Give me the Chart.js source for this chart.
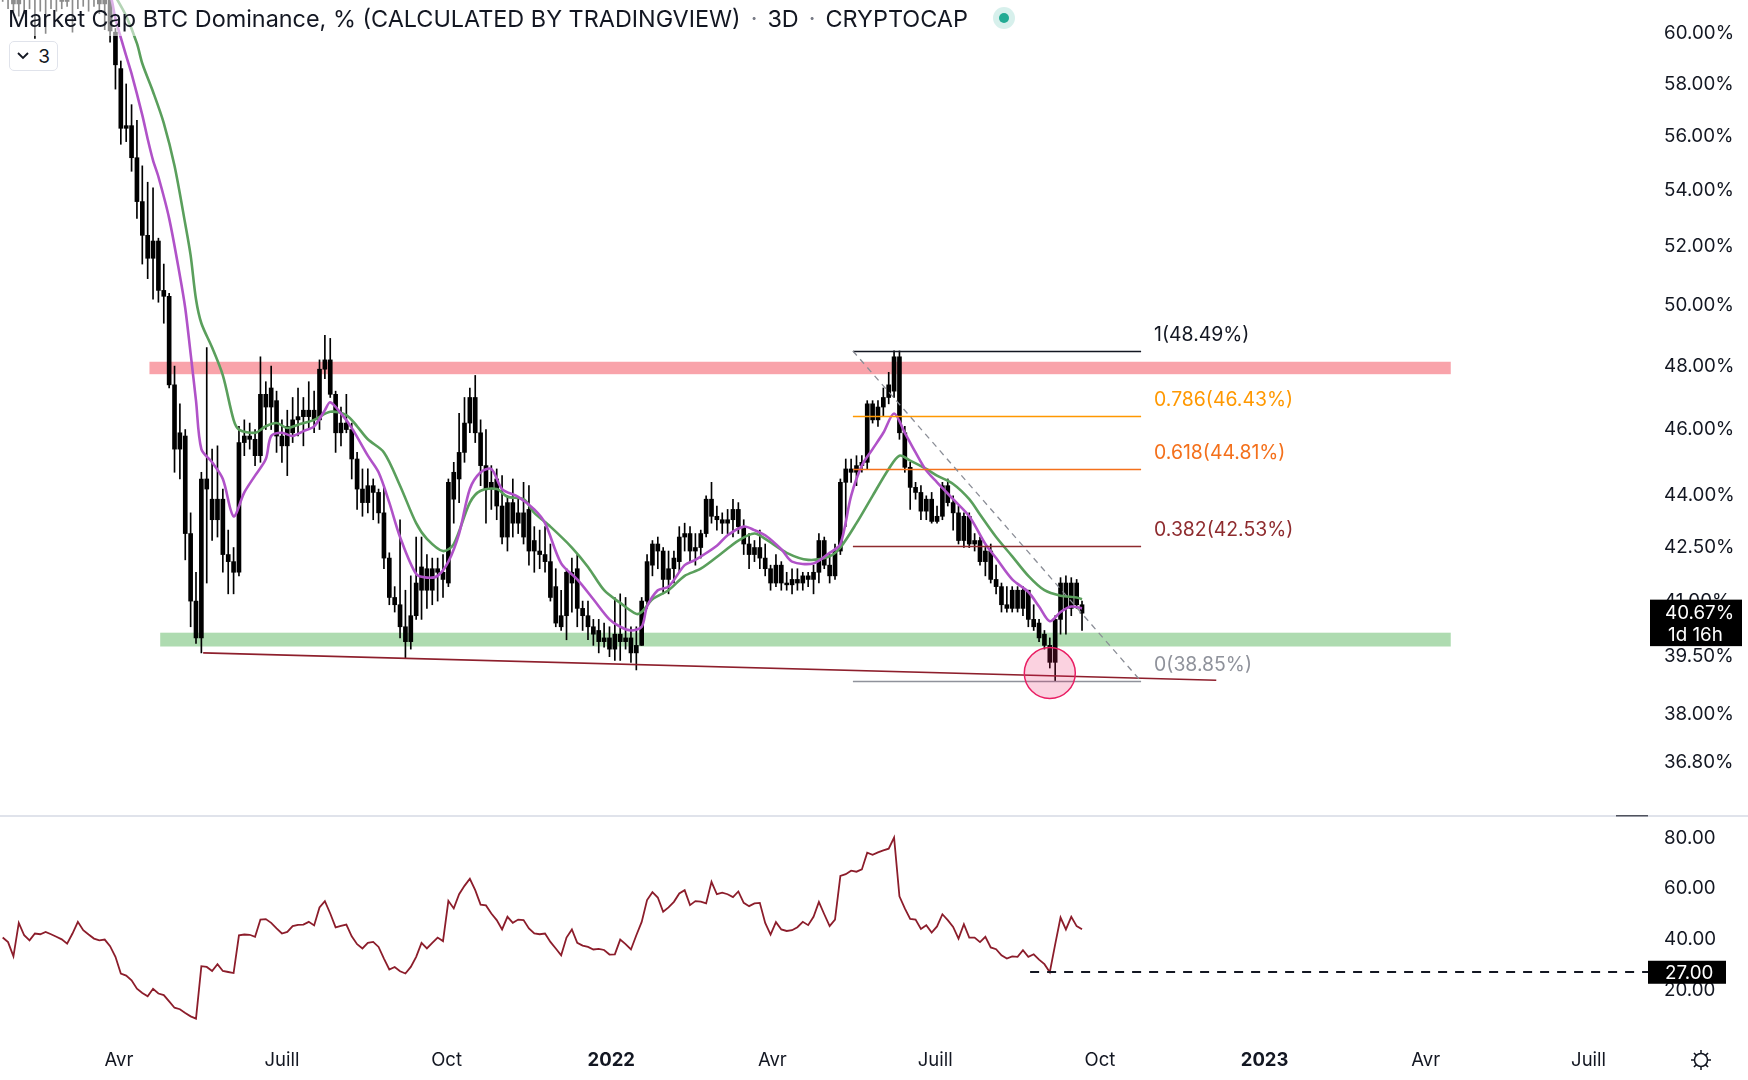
<!DOCTYPE html>
<html lang="fr">
<head>
<meta charset="utf-8">
<title>Market Cap BTC Dominance</title>
<script src="https://cdn.jsdelivr.net/npm/chart.js@4.4.1/dist/chart.umd.min.js"></script>
<style>
  html, body { margin: 0; padding: 0; background: #fff; }
  body { position: relative; width: 1748px; height: 1080px; overflow: hidden;
         font-family: Inter, "Noto Sans", "DejaVu Sans", sans-serif; color: #131722; }
  .pane { position: absolute; left: 0; width: 1748px; }
  #mainPane { top: 0; height: 815px; }
  #rsiPane { top: 815px; height: 265px; }
  #legend { position: absolute; left: 0; top: 0; height: 36px; padding: 0 14px 0 8px;
            display: flex; align-items: center; font-size: 23.4px; white-space: nowrap;
            background: rgba(255, 255, 255, 0.55); }
  #legend .sep { color: #787b86; margin: 0 10px; }
  #legend .dot { position: relative; width: 22px; height: 22px; margin-left: 25px; border-radius: 50%;
                 background: rgba(34, 171, 148, 0.18); }
  #legend .dot::after { content: ""; position: absolute; left: 6px; top: 6px; width: 10px; height: 10px;
                        border-radius: 50%; background: #22ab94; }
  #collapse { position: absolute; left: 9px; top: 41px; width: 47px; height: 28px;
              border: 1px solid #e0e3eb; border-radius: 5px; background: #fff;
              display: flex; align-items: center; justify-content: center; gap: 9px; font-size: 19px; }
</style>
</head>
<body>
<div class="pane" id="mainPane"><canvas id="mainChart"></canvas></div>
<div class="pane" id="rsiPane"><canvas id="rsiChart"></canvas></div>
<div id="legend">
  <span>Market Cap BTC Dominance, % (CALCULATED BY TRADINGVIEW)</span><span class="sep">·</span><span>3D</span><span class="sep">·</span><span>CRYPTOCAP</span><span class="dot"></span>
</div>
<div id="collapse"><svg width="12" height="8"><polyline points="1,1 6,6 11,1" fill="none" stroke="#131722" stroke-width="1.8"/></svg><span>3</span></div>
<script>
const FONT = 'Inter, "Noto Sans", "DejaVu Sans", sans-serif';
const INK = '#131722';

// 3D candles, BTC dominance in %
const firstBar = '2021-01-26';
const barStepDays = 3;

const open = [
  62.6, 62.0, 62.4, 61.2, 61.8, 62.5, 62.9, 62.1, 62.4, 61.9,
  62.3, 61.7, 61.3, 61.8, 61.4, 62.2, 62.6, 62.0, 61.6, 61.2,
  61.5, 60.05, 58.6, 56.3, 56.4, 55.2, 53.6, 52.4, 51.6, 52.2,
  50.5, 50.3, 47.4, 45.4, 45.8, 42.9, 41.0, 40.0, 44.5, 43.9,
  43.3, 43.9, 42.3, 42.1, 41.8, 45.6, 45.8, 45.7, 45.2, 47.1,
  46.7, 46.9, 45.8, 45.5, 45.9, 46.3, 46.4, 46.4, 46.6, 46.3,
  47.9, 48.2, 47.1, 45.9, 46.2, 46.0, 45.1, 44.2, 43.8, 44.3,
  44.1, 43.5, 42.2, 41.1, 40.9, 40.3, 39.9, 40.6, 41.3, 41.9,
  41.3, 41.9, 41.8, 41.5, 43.9, 44.5, 45.3, 46.2, 47.0, 45.9,
  44.9, 44.2, 44.5, 43.7, 42.8, 43.8, 43.2, 43.5, 43.6, 42.4,
  42.4, 42.3, 42.1, 41.4, 40.3, 40.6, 41.8, 41.9, 40.8, 40.6,
  40.3, 40.2, 39.9, 40.0, 39.7, 40.1, 39.9, 40.0, 39.6, 39.8,
  41.0, 42.0, 42.6, 42.4, 41.6, 41.9, 42.1, 42.8, 42.9, 42.4,
  42.5, 42.9, 43.9, 43.4, 43.3, 43.2, 43.3, 43.6, 43.1, 42.6,
  42.3, 42.5, 42.2, 41.9, 41.5, 42.0, 41.5, 41.45, 41.6, 41.5,
  41.7, 41.6, 41.8, 42.7, 42.0, 41.7, 42.4, 44.4, 44.8, 44.7,
  44.9, 45.0, 46.8, 46.3, 46.7, 47.0, 47.2, 48.3, 45.9, 44.85,
  44.25, 44.1, 43.55, 43.9, 43.25, 43.4, 44.3, 43.8, 43.5, 42.7,
  43.4, 42.6, 42.7, 42.1, 42.4, 41.6, 41.4, 40.9, 40.8, 41.3,
  40.8, 41.3, 40.5, 40.4, 40.1, 39.8, 39.35, 40.5, 41.5, 40.8,
  41.5, 40.9
];
const high = [
  63.4, 62.8, 63.0, 62.3, 63.0, 63.6, 63.2, 62.9, 63.1, 62.7,
  63.0, 62.2, 62.0, 62.4, 62.6, 62.9, 63.1, 62.5, 62.1, 61.9,
  61.8, 60.2, 58.9, 58.0, 57.2, 56.6, 54.9, 54.3, 54.1, 52.3,
  51.4, 50.4, 48.0, 46.8, 46.0, 43.5, 41.8, 44.7, 48.6, 45.4,
  45.5, 44.2, 43.0, 42.5, 46.1, 46.3, 46.2, 46.0, 48.3, 47.5,
  48.0, 47.2, 46.3, 46.6, 47.0, 47.3, 47.0, 47.5, 47.2, 48.2,
  49.0, 48.9, 47.2, 46.7, 47.1, 46.2, 45.3, 44.8, 44.8, 44.5,
  44.2, 44.3, 42.35, 41.4, 43.3, 41.3, 41.7, 42.8, 42.8, 42.3,
  42.2, 42.2, 42.3, 44.5, 45.0, 46.5, 47.0, 47.3, 47.7, 46.3,
  46.0, 44.9, 44.8, 44.6, 44.0, 44.5, 43.9, 44.4, 44.3, 43.1,
  43.0, 43.1, 42.6, 41.9, 41.3, 41.9, 42.2, 42.3, 41.0, 41.0,
  40.5, 40.5, 40.4, 40.3, 41.1, 41.2, 41.1, 40.3, 40.3, 41.1,
  42.3, 42.7, 42.8, 42.5, 42.4, 42.4, 43.1, 43.2, 43.1, 42.9,
  43.0, 44.0, 44.4, 43.7, 43.5, 43.6, 43.9, 43.8, 43.3, 42.9,
  42.7, 43.0, 42.6, 42.0, 42.3, 42.1, 41.8, 41.9, 41.9, 41.8,
  41.8, 42.0, 42.9, 42.8, 42.3, 42.6, 44.5, 45.1, 45.1, 45.2,
  45.2, 46.9, 46.9, 46.9, 47.3, 47.8, 48.49, 48.49, 46.1, 45.0,
  44.4, 44.3, 44.0, 44.1, 43.7, 44.4, 44.5, 44.0, 43.7, 43.5,
  43.5, 42.9, 42.8, 42.5, 42.6, 42.0, 41.5, 41.4, 41.4, 41.4,
  41.4, 41.3, 40.9, 40.5, 40.2, 40.0, 40.6, 41.65, 41.7, 41.65,
  41.6, 41.0
];
const low = [
  61.3, 61.0, 60.9, 60.7, 60.8, 61.0, 59.8, 60.9, 60.0, 61.0,
  60.9, 61.0, 61.1, 60.05, 61.0, 61.1, 60.9, 61.1, 60.8, 60.15,
  59.65, 57.8, 55.7, 55.8, 54.7, 53.0, 51.4, 50.9, 50.2, 50.1,
  49.4, 47.3, 44.7, 44.5, 42.15, 40.3, 39.85, 39.6, 41.5, 42.7,
  42.8, 41.8, 41.2, 41.2, 41.7, 45.2, 45.4, 44.9, 45.0, 46.0,
  46.0, 45.3, 45.0, 44.6, 45.6, 45.8, 45.5, 46.0, 45.9, 46.0,
  47.6, 47.0, 45.3, 45.5, 45.9, 44.5, 43.6, 43.4, 43.5, 43.3,
  43.2, 41.9, 40.9, 40.7, 40.0, 39.45, 39.7, 40.5, 40.5, 40.8,
  40.9, 41.0, 41.1, 41.4, 43.2, 43.8, 45.0, 45.9, 45.6, 44.3,
  43.2, 43.6, 43.3, 42.6, 42.4, 42.8, 42.9, 42.6, 42.0, 41.8,
  41.9, 41.8, 41.0, 40.3, 40.2, 39.95, 40.7, 40.3, 40.2, 39.95,
  39.8, 39.6, 39.75, 39.5, 39.4, 39.4, 39.7, 39.35, 39.15, 39.8,
  40.8, 41.7, 41.9, 41.2, 41.2, 41.5, 41.8, 42.4, 42.1, 42.0,
  42.2, 42.8, 43.2, 43.0, 42.9, 42.9, 42.8, 42.9, 42.3, 41.9,
  42.1, 41.9, 41.7, 41.3, 41.4, 41.3, 41.3, 41.2, 41.3, 41.3,
  41.4, 41.2, 41.5, 41.9, 41.5, 41.6, 42.3, 43.1, 44.4, 44.3,
  44.7, 44.8, 46.2, 46.1, 46.4, 46.8, 47.0, 45.7, 44.7, 43.6,
  43.9, 43.3, 43.3, 43.2, 43.2, 43.3, 43.7, 43.0, 42.6, 42.5,
  42.5, 42.4, 42.0, 41.7, 41.5, 41.2, 40.7, 40.7, 40.7, 40.7,
  40.6, 40.3, 40.2, 39.9, 39.7, 39.2, 38.85, 40.1, 40.1, 40.6,
  40.8, 40.2
];
const close = [
  62.0, 62.4, 61.2, 61.8, 62.5, 62.9, 62.1, 62.4, 61.9, 62.3,
  61.7, 61.3, 61.8, 61.4, 62.2, 62.6, 62.0, 61.6, 61.2, 61.5,
  60.1, 58.75, 56.3, 56.4, 55.2, 53.6, 52.4, 51.6, 52.2, 50.5,
  50.3, 47.4, 45.4, 45.9, 42.9, 41.0, 40.0, 44.5, 44.2, 43.3,
  43.9, 42.3, 42.1, 41.8, 45.6, 45.8, 45.7, 45.2, 47.1, 46.7,
  47.3, 45.8, 45.5, 46.1, 46.3, 46.4, 46.6, 46.6, 46.3, 47.9,
  48.2, 47.1, 45.9, 46.2, 46.0, 45.1, 44.2, 43.8, 44.3, 44.1,
  43.5, 42.2, 41.1, 40.9, 40.3, 39.9, 40.6, 41.5, 41.95, 41.3,
  41.9, 41.8, 41.6, 44.4, 44.7, 45.3, 46.2, 47.0, 45.9, 44.9,
  44.2, 44.4, 43.7, 42.8, 43.8, 43.2, 43.5, 42.8, 42.4, 42.7,
  42.3, 42.1, 41.1, 40.4, 40.6, 41.8, 41.5, 40.8, 40.6, 40.3,
  40.1, 39.9, 40.0, 39.7, 40.1, 39.9, 40.0, 39.6, 39.8, 41.0,
  42.1, 42.6, 42.4, 41.6, 41.9, 42.2, 42.8, 42.9, 42.4, 42.5,
  42.9, 43.9, 43.4, 43.3, 43.2, 43.3, 43.6, 43.1, 42.6, 42.3,
  42.5, 42.2, 41.9, 41.5, 42.0, 41.5, 41.45, 41.6, 41.5, 41.7,
  41.6, 41.8, 42.7, 42.0, 41.7, 42.4, 44.4, 44.8, 44.7, 44.9,
  45.0, 46.8, 46.3, 46.7, 47.0, 47.4, 48.3, 45.9, 44.85, 44.25,
  44.1, 43.55, 43.9, 43.25, 43.4, 44.3, 43.8, 43.5, 42.7, 43.4,
  42.6, 42.7, 42.1, 42.4, 41.6, 41.4, 40.9, 40.8, 41.3, 40.8,
  41.3, 40.5, 40.3, 40.0, 39.8, 39.35, 40.5, 41.5, 40.8, 41.5,
  40.9, 40.67
];

// RSI, one value per candle
const rsi = [
  40.7, 38.9, 33.3, 46.5, 41.6, 39.6, 42.3, 42.0, 42.9, 42.0,
  41.0, 40.0, 38.3, 42.3, 46.9, 43.6, 41.9, 40.3, 39.6, 39.9,
  37.3, 33.1, 26.5, 25.7, 23.8, 20.5, 18.8, 17.5, 20.5, 18.6,
  18.0, 15.5, 13.0, 12.4, 10.9, 9.6, 8.7, 29.4, 29.1, 27.5,
  30.2, 27.5, 27.1, 26.7, 41.6, 41.9, 41.8, 41.0, 47.8, 48.0,
  46.5, 44.3, 42.3, 42.9, 45.2, 45.7, 45.8, 46.9, 45.5, 52.6,
  55.1, 50.2, 44.7, 45.3, 45.8, 41.2, 38.1, 36.4, 38.6, 39.0,
  37.0, 32.4, 28.1, 29.1, 27.4, 26.5, 29.1, 33.1, 38.6, 36.4,
  38.6, 40.7, 39.3, 55.2, 52.2, 57.8, 61.1, 63.9, 59.4, 53.7,
  53.4, 50.2, 47.6, 43.9, 48.9, 46.5, 47.8, 47.6, 44.3, 42.3,
  42.0, 42.3, 39.0, 36.4, 33.7, 40.7, 43.9, 38.6, 37.5, 37.0,
  36.0, 36.2, 35.8, 34.0, 34.1, 39.9, 38.1, 36.0, 41.6, 46.9,
  55.5, 58.6, 56.5, 50.9, 52.6, 54.8, 58.1, 59.4, 53.5, 55.1,
  54.9, 54.2, 62.7, 57.8, 58.4, 57.8, 56.7, 58.9, 54.4, 53.1,
  54.2, 54.4, 46.5, 41.9, 46.8, 43.9, 43.3, 43.6, 44.8, 46.9,
  45.6, 48.9, 54.8, 49.9, 45.2, 47.8, 65.0, 65.7, 67.1, 66.7,
  67.6, 74.2, 73.4, 74.3, 75.1, 75.8, 80.2, 57.0, 52.2, 48.1,
  47.8, 44.1, 45.6, 42.7, 45.1, 49.9, 47.6, 44.9, 40.3, 46.0,
  40.7, 40.7, 38.9, 41.0, 36.8, 36.1, 33.7, 32.4, 33.3, 33.1,
  35.7, 33.1, 34.1, 32.0, 30.2, 27.0, 38.0, 48.6, 43.9, 48.9,
  45.2, 44.0
];

// moving averages, read at these candle numbers
const fastMaBar = [14, 18, 20, 21, 23, 24, 26, 27, 28, 29, 31, 33, 34, 35, 36, 37, 39, 41, 43, 45,
  47, 49, 50, 52, 54, 56, 58, 60, 61, 63, 65, 68, 70, 72, 74, 77, 79, 81, 83, 85,
  87, 89, 91, 93, 96, 99, 101, 104, 107, 110, 113, 115, 117, 119, 120, 122, 124, 127, 129, 133,
  135, 138, 140, 142, 145, 147, 151, 154, 156, 158, 160, 162, 164, 166, 168, 170, 172, 174, 177, 180,
  183, 185, 188, 191, 193, 195, 197, 199, 201];
const fastMa = [63.4, 62.4, 61.6, 60.6, 59.1, 58.4, 56.8, 55.9, 55.1, 54.5, 53.0, 51.0, 49.9, 48.4, 46.9, 45.4, 45.0, 44.5, 43.4, 44.1,
  44.6, 45.1, 45.8, 45.9, 45.8, 45.95, 46.1, 46.6, 46.85, 46.5, 46.05, 45.2, 44.7, 43.8, 42.8, 41.75, 41.65, 41.7, 42.1, 42.9,
  44.2, 44.7, 44.8, 44.2, 43.97, 43.6, 43.2, 42.05, 41.6, 41.05, 40.5, 40.3, 40.2, 40.3, 40.85, 41.3, 41.4, 42.0, 42.15, 42.55,
  42.85, 43.1, 43.0, 42.85, 42.45, 42.1, 42.05, 42.35, 42.6, 44.0, 44.9, 45.4, 45.9, 46.5, 45.9, 45.3, 44.75, 44.4, 43.9, 43.4,
  42.6, 42.2, 41.6, 41.25, 40.85, 40.45, 40.7, 40.85, 40.8];
const slowMaBar = [14, 18, 21, 23, 25, 26, 28, 30, 32, 34, 35, 36, 37, 39, 41, 43, 44, 47, 49, 51,
  53, 55, 58, 61, 64, 66, 68, 71, 74, 77, 79, 82, 84, 87, 89, 92, 94, 97, 99, 102,
  106, 109, 112, 115, 118, 119, 121, 124, 127, 130, 134, 137, 140, 142, 146, 150, 154, 156, 159, 162,
  165, 167, 169, 172, 174, 177, 180, 182, 185, 188, 191, 194, 197, 200, 201];
const slowMa = [64.0, 62.6, 61.5, 60.7, 59.6, 58.8, 57.7, 56.5, 54.9, 52.8, 51.7, 50.2, 49.4, 48.6, 47.7, 46.3, 46.0, 45.9, 46.1, 46.2,
  46.05, 46.15, 46.3, 46.55, 46.45, 46.1, 45.7, 45.3, 44.3, 43.2, 42.75, 42.4, 42.6, 43.8, 44.15, 44.2, 43.97, 43.9, 43.5, 43.1,
  42.5, 41.95, 41.3, 40.95, 40.65, 40.7, 41.05, 41.3, 41.7, 41.9, 42.35, 42.7, 42.9, 42.75, 42.35, 42.15, 42.25, 42.5, 43.2, 44.0,
  44.8, 45.2, 45.05, 44.8, 44.6, 44.35, 43.9, 43.45, 42.8, 42.25, 41.7, 41.3, 41.15, 41.1, 41.05];

const priceTicks = [36.8, 38, 39.5, 41, 42.5, 44, 46, 48, 50, 52, 54, 56, 58, 60];
const rsiTicks = [20, 40, 60, 80];
const monthTicks = ['2021-04-01', '2021-07-01', '2021-10-01', '2022-01-01', '2022-04-01',
  '2022-07-01', '2022-10-01', '2023-01-01', '2023-04-01', '2023-07-01'];
const monthLabels = ['Avr', 'Juill', 'Oct', '2022', 'Avr', 'Juill', 'Oct', '2023', 'Avr', 'Juill'];

const lastPrice = 40.67;
const countdown = '1d 16h';
const rsiLow = 27;
const rsiLowFrom = '2022-08-23';

// drawings on the price pane
const zones = [
  { from: '2021-04-18', to: '2023-04-15', lo: 47.74, hi: 48.14, color: 'rgba(242, 54, 69, 0.46)' },
  { from: '2021-04-24', to: '2023-04-15', lo: 39.77, hi: 40.14, color: 'rgba(76, 175, 80, 0.45)' }
];
const trend = { from: ['2021-05-18', 39.60], to: ['2022-12-05', 38.88] };
const fib = { from: '2022-05-16', to: '2022-10-24', high: 48.49, low: 38.85,
  levels: [1, 0.786, 0.618, 0.382, 0],
  colors: ['#131722', '#ff9800', '#f4701b', '#8e2b2e', '#8f929b'] };
const marker = { at: ['2022-09-03', 39.07] };

const DAY0 = Date.parse('2021-01-01');
const day = s => (Date.parse(s) - DAY0) / 864e5;
const barDay = i => day(firstBar) + barStepDays * i;
const VIEW = { from: 23.5, to: 944.2 };

const wicks = low.map((l, i) => ({ x: barDay(i), y: [l, high[i]] }));
const bodies = open.map((o, i) => ({ x: barDay(i), y: [o, close[i]] }));
const fastLine = fastMaBar.map((b, k) => ({ x: barDay(b), y: fastMa[k] }));
const slowLine = slowMaBar.map((b, k) => ({ x: barDay(b), y: slowMa[k] }));
const rsiLine = rsi.map((v, i) => ({ x: barDay(i), y: v }));

function sideAxis(min, max, ticks, fmt, type) {
  return {
    type, position: 'right', min, max, bounds: 'data',
    grid: { display: false, drawTicks: false }, border: { display: false },
    ticks: { padding: 16, color: INK, font: { size: 18.8, family: FONT }, callback: v => fmt(v) },
    afterBuildTicks: s => { s.ticks = ticks.map(v => ({ value: v })); },
    afterFit: s => { s.width = 100; s.paddingTop = 0; s.paddingBottom = 0; }
  };
}

const drawings = {
  id: 'drawings',
  beforeDatasetsDraw(chart) {
    const { ctx, chartArea: a, scales: { x, y } } = chart;
    ctx.save();
    ctx.beginPath(); ctx.rect(a.left, a.top, a.width, a.height); ctx.clip();
    zones.forEach(z => {
      const x1 = x.getPixelForValue(day(z.from)), x2 = x.getPixelForValue(day(z.to));
      const y1 = y.getPixelForValue(z.hi), y2 = y.getPixelForValue(z.lo);
      ctx.fillStyle = z.color;
      ctx.fillRect(x1, y1, x2 - x1, y2 - y1);
    });
    ctx.restore();
  },
  afterDatasetsDraw(chart) {
    const { ctx, chartArea: a, scales: { x, y } } = chart;
    ctx.save();
    ctx.beginPath(); ctx.rect(a.left, a.top, a.width, a.height); ctx.clip();

    // support trend line
    ctx.strokeStyle = '#8e1f2c'; ctx.lineWidth = 1.6;
    ctx.beginPath();
    ctx.moveTo(x.getPixelForValue(day(trend.from[0])), y.getPixelForValue(trend.from[1]));
    ctx.lineTo(x.getPixelForValue(day(trend.to[0])), y.getPixelForValue(trend.to[1]));
    ctx.stroke();

    // fib retracement
    const fx1 = x.getPixelForValue(day(fib.from)), fx2 = x.getPixelForValue(day(fib.to));
    ctx.font = '19.4px ' + FONT; ctx.textBaseline = 'middle'; ctx.textAlign = 'left';
    fib.levels.forEach((lv, k) => {
      const price = fib.low + (fib.high - fib.low) * lv;
      const py = Math.round(y.getPixelForValue(price)) + 0.5;
      ctx.strokeStyle = fib.colors[k]; ctx.lineWidth = 1.3;
      ctx.beginPath(); ctx.moveTo(fx1, py); ctx.lineTo(fx2, py); ctx.stroke();
      ctx.fillStyle = fib.colors[k];
      ctx.fillText(lv + '(' + price.toFixed(2) + '%)', fx2 + 13, py - 16);
    });
    ctx.setLineDash([6, 5]); ctx.strokeStyle = '#8a8d96'; ctx.lineWidth = 1.3;
    ctx.beginPath();
    ctx.moveTo(fx1, y.getPixelForValue(fib.high));
    ctx.lineTo(fx2, y.getPixelForValue(fib.low));
    ctx.stroke();
    ctx.setLineDash([]);

    // circle on the low
    const cx = x.getPixelForValue(day(marker.at[0])), cy = y.getPixelForValue(marker.at[1]);
    ctx.beginPath(); ctx.arc(cx, cy, 25.5, 0, Math.PI * 2);
    ctx.fillStyle = 'rgba(233, 30, 99, 0.2)'; ctx.fill();
    ctx.strokeStyle = '#e91e63'; ctx.lineWidth = 1.5; ctx.stroke();
    ctx.restore();
  },
  afterDraw(chart) {
    const { ctx, chartArea: a, scales: { y } } = chart;
    const py = y.getPixelForValue(lastPrice);
    ctx.save();
    ctx.fillStyle = '#000';
    ctx.fillRect(a.right + 2, py - 13.5, 92, 46.5);
    ctx.fillStyle = '#fff'; ctx.font = '18.8px ' + FONT; ctx.textBaseline = 'middle'; ctx.textAlign = 'left';
    ctx.fillText(lastPrice.toFixed(2) + '%', a.right + 17, py);
    ctx.fillText(countdown, a.right + 20, py + 22);
    ctx.restore();
  }
};

const rsiDecor = {
  id: 'rsiDecor',
  afterDatasetsDraw(chart) {
    const { ctx, chartArea: a, scales: { x, y } } = chart;
    const py = Math.round(y.getPixelForValue(rsiLow));
    ctx.save();
    ctx.setLineDash([9, 8]); ctx.strokeStyle = INK; ctx.lineWidth = 2;
    ctx.beginPath(); ctx.moveTo(x.getPixelForValue(day(rsiLowFrom)), py); ctx.lineTo(a.right, py); ctx.stroke();
    ctx.restore();
  },
  afterDraw(chart) {
    const { ctx, chartArea: a, scales: { y }, width } = chart;
    ctx.save();
    ctx.fillStyle = '#e0e3eb'; ctx.fillRect(0, 0, width, 2);
    ctx.fillStyle = '#50535e'; ctx.fillRect(a.right - 32, 0, 32, 1.5);

    const py = y.getPixelForValue(rsiLow);
    ctx.fillStyle = '#000'; ctx.fillRect(a.right, py - 11.5, 78, 23);
    ctx.fillStyle = '#fff'; ctx.font = '18.8px ' + FONT; ctx.textBaseline = 'middle'; ctx.textAlign = 'left';
    ctx.fillText(rsiLow.toFixed(2), a.right + 17, py + 1);

    // settings icon
    const gx = a.right + 53, gy = a.bottom + 20;
    ctx.strokeStyle = INK; ctx.lineWidth = 1.5;
    ctx.beginPath(); ctx.arc(gx, gy, 6.5, 0, Math.PI * 2); ctx.stroke();
    ctx.beginPath();
    for (let k = 0; k < 8; k++) {
      const t = k * Math.PI / 4;
      ctx.moveTo(gx + Math.cos(t) * 6.5, gy + Math.sin(t) * 6.5);
      ctx.lineTo(gx + Math.cos(t) * 10, gy + Math.sin(t) * 10);
    }
    ctx.stroke();
    ctx.restore();
  }
};

const common = {
  responsive: true, maintainAspectRatio: false, animation: false, events: [],
  layout: { padding: 0 },
  plugins: { legend: { display: false }, tooltip: { enabled: false } }
};

new Chart(document.getElementById('mainChart'), {
  type: 'bar',
  data: {
    datasets: [
      { type: 'line', data: fastLine, borderColor: '#b052c8', borderWidth: 2.6, pointRadius: 0, tension: 0.3, order: 0 },
      { type: 'line', data: slowLine, borderColor: '#5a9f5c', borderWidth: 2.6, pointRadius: 0, tension: 0.3, order: 1 },
      { data: bodies, backgroundColor: '#000', barThickness: 4, grouped: false, minBarLength: 1, order: 2 },
      { data: wicks, backgroundColor: '#000', barThickness: 1, grouped: false, order: 3 }
    ]
  },
  options: {
    ...common,
    scales: {
      x: { type: 'linear', min: VIEW.from, max: VIEW.to, bounds: 'data', offset: false, display: false },
      y: sideAxis(35.52, 61.36, priceTicks, v => v.toFixed(2) + '%', 'logarithmic')
    }
  },
  plugins: [drawings]
});

new Chart(document.getElementById('rsiChart'), {
  type: 'line',
  data: {
    datasets: [
      { data: rsiLine, borderColor: '#8c1d2b', borderWidth: 1.8, pointRadius: 0, tension: 0 }
    ]
  },
  options: {
    ...common,
    scales: {
      x: {
        type: 'linear', min: VIEW.from, max: VIEW.to, bounds: 'data', offset: false, position: 'bottom',
        grid: { display: false, drawTicks: false }, border: { display: false },
        ticks: {
          autoSkip: false, maxRotation: 0, padding: 9, color: INK,
          font: c => ({ size: 18.5, family: FONT, weight: /^\d{4}$/.test(monthLabels[c.index] || '') ? 'bold' : 'normal' }),
          callback: (v, i) => monthLabels[i]
        },
        afterBuildTicks: s => { s.ticks = monthTicks.map(d => ({ value: day(d) })); },
        afterFit: s => { s.height = 40; s.paddingLeft = 0; s.paddingRight = 0; }
      },
      y: sideAxis(0.26, 89.08, rsiTicks, v => v.toFixed(2), 'linear')
    }
  },
  plugins: [rsiDecor]
});
</script>
</body>
</html>
